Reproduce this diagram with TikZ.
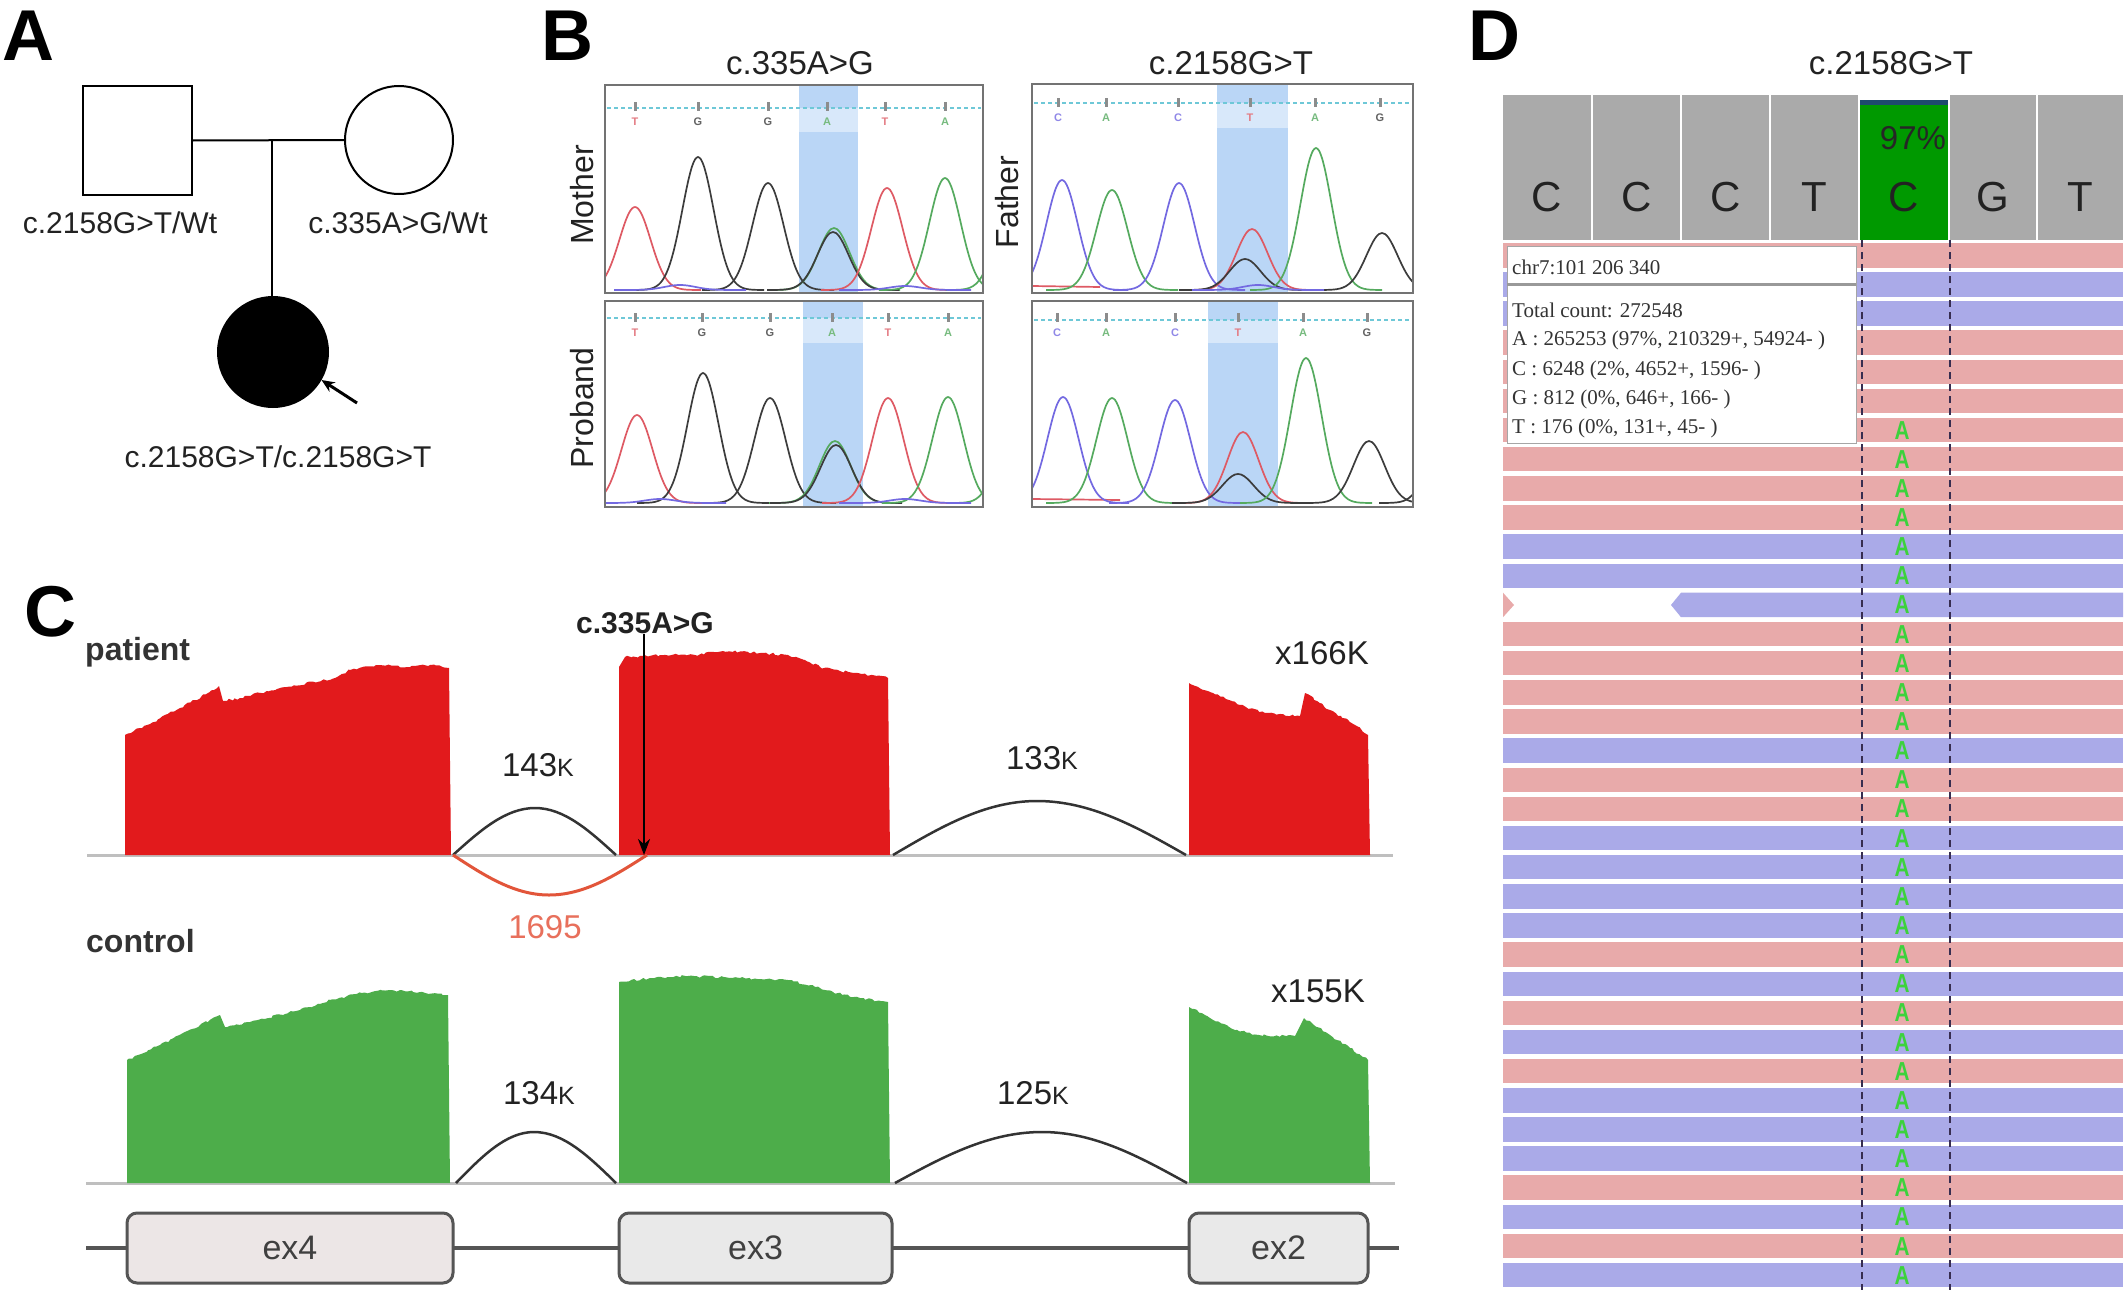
\documentclass[tikz,border=0pt]{standalone}
\usepackage{fontspec}
\setmainfont{Liberation Sans}
\newfontfamily\popfont{Liberation Serif}
\usepackage{graphicx}
\usetikzlibrary{arrows.meta,decorations.pathmorphing}
\newcommand\fsz[1]{\fontsize{#1}{#1}\selectfont}
\newcommand\pk[5]{\draw[#1,line width=1.7pt] plot[domain=#2-3*#5:#2+3*#5,samples=45,smooth] (\x,{#3-(#3-#4)*exp(-(((\x-#2)/#5)^2))});}
\definecolor{txtc}{RGB}{34,34,34}
\definecolor{covred}{RGB}{226,26,28}
\definecolor{covgreen}{RGB}{77,173,74}
\definecolor{jred}{RGB}{226,85,58}
\definecolor{jlab}{RGB}{232,112,92}
\definecolor{hl}{RGB}{186,214,246}
\definecolor{hllight}{RGB}{216,232,250}
\definecolor{trR}{RGB}{222,90,100}
\definecolor{trG}{RGB}{85,170,95}
\definecolor{trB}{RGB}{115,105,225}
\definecolor{trK}{RGB}{60,60,60}
\definecolor{dashcy}{RGB}{110,200,215}
\definecolor{rdpink}{RGB}{232,170,170}
\definecolor{rdblue}{RGB}{170,170,232}
\definecolor{hdrgray}{RGB}{170,170,170}
\definecolor{igvgreen}{RGB}{0,153,0}
\definecolor{igvtop}{RGB}{30,74,110}
\definecolor{agreen}{RGB}{60,210,60}
\definecolor{dashcol}{RGB}{55,45,80}
\definecolor{exfill}{RGB}{236,230,230}
\definecolor{exfill2}{RGB}{233,233,233}
\definecolor{exline}{RGB}{85,85,85}
\tikzset{
  plabel/.style={font=\fsz{72}\bfseries, anchor=base west, inner sep=0pt},
  ptxt/.style={font=\fsz{30}, text=txtc, inner sep=0pt},
  ttl/.style={font=\fsz{33}, text=txtc, inner sep=0pt},
  rot/.style={font=\fsz{32}, text=txtc, inner sep=0pt, rotate=90},
  numlab/.style={font=\fsz{33}, text=txtc, inner sep=0pt},
  ped/.style={draw, line width=2pt, inner sep=0pt},
  chbox/.style={draw=black!55, line width=2pt},
  base/.style={draw=black!25, line width=3pt},
  arc/.style={draw=black!80, line width=2.5pt},
  jag/.style={decoration={random steps,segment length=3pt,amplitude=1.2pt}},
  exonbox/.style={draw=exline, line width=3pt, rounded corners=10pt, minimum height=70pt, inner sep=0pt, font=\fsz{34}, text=black!75},
  sl/.style={font=\fsz{11}\bfseries, inner sep=0pt},
  hdr/.style={font=\fsz{42}, text=txtc, inner sep=0pt},
  pop/.style={font=\popfont\fsz{21}, text=black!80, anchor=west, inner sep=0pt},
}
\begin{document}
\begin{tikzpicture}[x=1pt,y=-1pt]
\useasboundingbox (0,0) rectangle (2128,1290);
\fill[white] (0,0) rectangle (2128,1290);
\pgfmathsetseed{7}

% ---------------- Panel A ----------------
\node[plabel] (labA) at (2,60) {A};
\node[ped, minimum width=109pt, minimum height=109pt] (father) at (137.5,140.5) {};
\node[ped, circle, minimum size=108pt] (mother) at (399,140) {};
\node[ped, circle, fill=black, minimum size=110pt] (proband) at (273,352) {};
\coordinate (mate) at (272,140.5);
\draw[line width=2pt] (father.east) -- (mother.west);
\draw[line width=2pt] (mate) -- (mate |- proband.north);
\coordinate (pbarrow) at (357,403);
\draw[-{Stealth[length=13pt,width=11pt]}, line width=3pt] (pbarrow) -- (proband.-30);
\node[ptxt] (gtF) at (120,223) {c.2158G>T/Wt};
\node[ptxt] (gtM) at (398,223) {c.335A>G/Wt};
\node[ptxt] (gtP) at (278,457) {c.2158G>T/c.2158G>T};

% ---------------- Panel B ----------------
\node[plabel] (labB) at (541,60) {B};
\node[ttl] (tB1) at (800,63) {c.335A>G};
\node[ttl] (tB2) at (1231,63) {c.2158G>T};
\node[rot] (lMo) at (582,195) {Mother};
\node[rot] (lPr) at (582,408) {Proband};
\node[rot] (lFa) at (1007,202) {Father};

% highlights
\fill[hl] (799,85) rectangle (858,293);
\fill[hllight] (799,108) rectangle (858,132);
\fill[hl] (803,301) rectangle (863,507);
\fill[hllight] (803,318) rectangle (863,343);
\fill[hl] (1217,84) rectangle (1288,293);
\fill[hllight] (1217,103) rectangle (1288,128);
\fill[hl] (1208,301) rectangle (1278,507);
\fill[hllight] (1208,320) rectangle (1278,343);

% dashed cyan lines
\draw[dashcy, line width=1.5pt, dash pattern=on 4pt off 3pt] (607,108) -- (981,108);
\draw[dashcy, line width=1.5pt, dash pattern=on 4pt off 3pt] (607,318) -- (981,318);
\draw[dashcy, line width=1.5pt, dash pattern=on 4pt off 3pt] (1034,103) -- (1411,103);
\draw[dashcy, line width=1.5pt, dash pattern=on 4pt off 3pt] (1034,320) -- (1411,320);

% base calls
\foreach \bx/\by/\bc/\bl in {635/122/trR/T,698/122/trK/G,768/122/trK/G,827/122/trG/A,885/122/trR/T,945/122/trG/A,
  635/333/trR/T,702/333/trK/G,770/333/trK/G,832/333/trG/A,888/333/trR/T,948/333/trG/A,
  1058/118/trB/C,1106/118/trG/A,1178/118/trB/C,1250/118/trR/T,1315/118/trG/A,1380/118/trK/G,
  1057/333/trB/C,1106/333/trG/A,1175/333/trB/C,1238/333/trR/T,1303/333/trG/A,1367/333/trK/G}
{
  \fill[black!45] (\bx-1.5,\by-20) rectangle (\bx+1.5,\by-11);
  \node[sl, text=\bc!80] at (\bx,\by) {\bl};
}

% traces
\begin{scope}
\clip (606,86) rectangle (982,292);
\foreach \pcol/\pmu/\ptop in {trR/635/207,trK/698/157,trK/768/183,trG/834/228,trK/833/232,trR/887/188,trG/945/178,trG/1012/200,trB/680/285,trB/905/286}
  {\pk{\pcol}{\pmu}{290}{\ptop}{22}}
\end{scope}
\begin{scope}
\clip (606,302) rectangle (982,506);
\foreach \pcol/\pmu/\ptop in {trR/637/415,trK/703/373,trK/770/398,trG/835/441,trK/836/445,trR/888/398,trG/948/397,trG/1015/410,trB/660/499,trB/905/499}
  {\pk{\pcol}{\pmu}{503}{\ptop}{22}}
\end{scope}
\begin{scope}
\clip (1032,85) rectangle (1412,292);
\draw[trR, line width=1.7pt] (1032,286) -- (1100,287);
\foreach \pcol/\pmu/\ptop in {trB/1062/180,trG/1112/190,trB/1179/183,trR/1252/229,trK/1245/259,trG/1316/148,trK/1382/233,trB/1258/285}
  {\pk{\pcol}{\pmu}{290}{\ptop}{22}}
\end{scope}
\begin{scope}
\clip (1032,302) rectangle (1412,506);
\draw[trR, line width=1.7pt] (1032,499) -- (1120,500);
\foreach \pcol/\pmu/\ptop in {trB/1063/397,trG/1112/398,trB/1175/400,trR/1243/432,trK/1238/474,trG/1306/358,trK/1369/441,trK/1445/430}
  {\pk{\pcol}{\pmu}{503}{\ptop}{22}}
\end{scope}

% boxes
\draw[chbox] (605,85) rectangle (983,293);
\draw[chbox] (605,301) rectangle (983,507);
\draw[chbox] (1032,84) rectangle (1413,293);
\draw[chbox] (1032,301) rectangle (1413,507);

% ---------------- Panel C ----------------
\node[plabel] (labC) at (24,636) {C};
\node[font=\fsz{32}\bfseries, text=black!80, anchor=base west, inner sep=0pt] (lpat) at (85,660) {patient};
\node[font=\fsz{32}\bfseries, text=black!80, anchor=base west, inner sep=0pt] (lctl) at (86,952) {control};

% patient
\draw[base] (87,855) -- (1393,855);
\fill[covred] (125,855) -- (125,735) decorate[jag]{-- (150,724) -- (180,708) -- (214,690) -- (219,686)} -- (223,701) decorate[jag]{-- (240,698) -- (280,688) -- (335,678) -- (350,670) -- (379,665) -- (410,667) -- (430,665) -- (449,668)} -- (451,855) -- cycle;
\fill[covred] (619,855) -- (619,667) -- (625,657) decorate[jag]{-- (660,655) -- (695,655) -- (723,651) -- (760,653) -- (788,655) -- (805,660) -- (820,667) -- (840,671) -- (858,673) -- (888,678)} -- (890,855) -- cycle;
\fill[covred] (1189,855) -- (1189,683) decorate[jag]{-- (1210,692) -- (1240,705) -- (1265,713) -- (1300,716)} -- (1305,693) decorate[jag]{-- (1330,710) -- (1355,725) -- (1368,735)} -- (1370,855) -- cycle;
\coordinate (jp1a) at (453,855); \coordinate (jp1t) at (535,808); \coordinate (jp1b) at (616,855);
\coordinate (jr1t) at (549,895); \coordinate (jr1b) at (647,855);
\coordinate (jp2a) at (893,855); \coordinate (jp2t) at (1037,801); \coordinate (jp2b) at (1186,855);
\draw[arc] (jp1a) sin (jp1t) cos (jp1b);
\draw[jred, line width=3pt] (jp1a) sin (jr1t) cos (jr1b);
\draw[arc] (jp2a) sin (jp2t) cos (jp2b);
\node[numlab] (n143) at (538,765) {143{\fsz{25}K}};
\node[numlab] (n133) at (1042,758) {133{\fsz{25}K}};
\node[numlab, text=jlab] (n1695) at (545,927) {1695};
\node[numlab] (n166) at (1322,653) {x166K};
\node[font=\fsz{30}\bfseries, text=txtc, inner sep=0pt] (mut) at (645,623) {c.335A>G};
\coordinate (mutTip) at (644,855);
\draw[-{Stealth[length=16pt,width=12pt]}, line width=2.5pt] (mut.south -| mutTip) -- (mutTip);

% control
\draw[base] (86,1183) -- (1395,1183);
\fill[covgreen] (127,1183) -- (127,1060) decorate[jag]{-- (160,1045) -- (200,1025) -- (220,1015)} -- (225,1027) decorate[jag]{-- (250,1022) -- (300,1010) -- (330,1000) -- (362,993) -- (390,990) -- (420,992) -- (448,995)} -- (450,1183) -- cycle;
\fill[covgreen] (619,1183) -- (619,982) decorate[jag]{-- (650,978) -- (688,976) -- (740,978) -- (788,980) -- (810,985) -- (833,992) -- (860,998) -- (888,1002)} -- (890,1183) -- cycle;
\fill[covgreen] (1189,1183) -- (1189,1007) decorate[jag]{-- (1210,1018) -- (1235,1030) -- (1259,1035) -- (1295,1036)} -- (1304,1018) decorate[jag]{-- (1330,1035) -- (1350,1048) -- (1368,1060)} -- (1370,1183) -- cycle;
\coordinate (jc1a) at (456,1183); \coordinate (jc1t) at (534,1132); \coordinate (jc1b) at (616,1183);
\coordinate (jc2a) at (895,1183); \coordinate (jc2t) at (1042,1132); \coordinate (jc2b) at (1187,1183);
\draw[arc] (jc1a) sin (jc1t) cos (jc1b);
\draw[arc] (jc2a) sin (jc2t) cos (jc2b);
\node[numlab] (n134) at (539,1093) {134{\fsz{25}K}};
\node[numlab] (n125) at (1033,1093) {125{\fsz{25}K}};
\node[numlab] (n155) at (1318,991) {x155K};

% gene model
\coordinate (gmL) at (86,1248);
\coordinate (gmR) at (1399,1248);
\draw[exline, line width=4pt] (gmL) -- (gmR);
\node[exonbox, fill=exfill, minimum width=326pt] (ex4) at (290,1248) {ex4};
\node[exonbox, fill=exfill2, minimum width=273pt] (ex3) at (755.5,1248) {ex3};
\node[exonbox, fill=exfill2, minimum width=179pt] (ex2) at (1278.5,1248) {ex2};

% ---------------- Panel D ----------------
\node[plabel] (labD) at (1468,60) {D};
\node[ttl] (tD) at (1891,63) {c.2158G>T};
\foreach \xa/\xb/\lt in {1503/1591/C,1593/1680/C,1682/1769/C,1771/1858/T,1950/2036/G,2038/2123/T}
{
  \fill[hdrgray] (\xa,95) rectangle (\xb,240);
  \node[hdr] at ({(\xa+\xb)/2},197) {\lt};
}
\fill[igvgreen] (1860,100) rectangle (1948,240);
\fill[igvtop] (1860,100) rectangle (1948,105);
\node[hdr] (refC) at (1904,197) {C};
\node[font=\fsz{33}, text=black!85, inner sep=0pt] (pct) at (1913,138) {97\%};

\foreach \ri/\rc in {1/rdpink,2/rdblue,3/rdblue,4/rdpink,5/rdpink,6/rdpink,7/rdpink,8/rdpink,9/rdpink,10/rdpink,11/rdblue,12/rdblue,14/rdpink,15/rdpink,16/rdpink,17/rdpink,18/rdblue,19/rdpink,20/rdpink,21/rdblue,22/rdblue,23/rdblue,24/rdblue,25/rdpink,26/rdblue,27/rdpink,28/rdblue,29/rdpink,30/rdblue,31/rdblue,32/rdblue,33/rdpink,34/rdblue,35/rdpink,36/rdblue}
  \fill[\rc] (1503,{243+(\ri-1)*29.14}) rectangle (2123,{267.5+(\ri-1)*29.14});
% row 13 (split read)
\fill[rdpink] (1503,592.7) -- (1514,605) -- (1503,617.2) -- cycle;
\fill[rdblue] (1671,605) -- (1681,592.7) -- (2123,592.7) -- (2123,617.2) -- (1681,617.2) -- cycle;

% popup
\fill[white] (1507,246) rectangle (1856,443);
\draw[black!35, line width=1pt] (1507,246) rectangle (1856,443);
\draw[black!40, line width=3pt] (1507,284) -- (1856,284);
\node[pop] (p1) at (1512,267) {chr7:101 206 340};
\node[pop] (p2) at (1512,310) {Total count: 272548};
\node[pop] (p3) at (1512,340) {A : 265253 (97\%, 210329+, 54924- )};
\node[pop] (p4) at (1512,370) {C : 6248 (2\%, 4652+, 1596- )};
\node[pop] (p5) at (1512,399) {G : 812 (0\%, 646+, 166- )};
\node[pop] (p6) at (1512,428) {T : 176 (0\%, 131+, 45- )};

\draw[dashcol, line width=2.5pt, dash pattern=on 7pt off 5pt] (1862,240) -- (1862,1290);
\draw[dashcol, line width=2.5pt, dash pattern=on 7pt off 5pt] (1950,240) -- (1950,1290);

\foreach \ri in {7,...,36}
  \node[font=\fsz{26}\bfseries, text=agreen, inner sep=0pt] (gA\ri) at (1902,{255.3+(\ri-1)*29.14}) {\scalebox{0.8}[1]{A}};
\end{tikzpicture}
\end{document}
